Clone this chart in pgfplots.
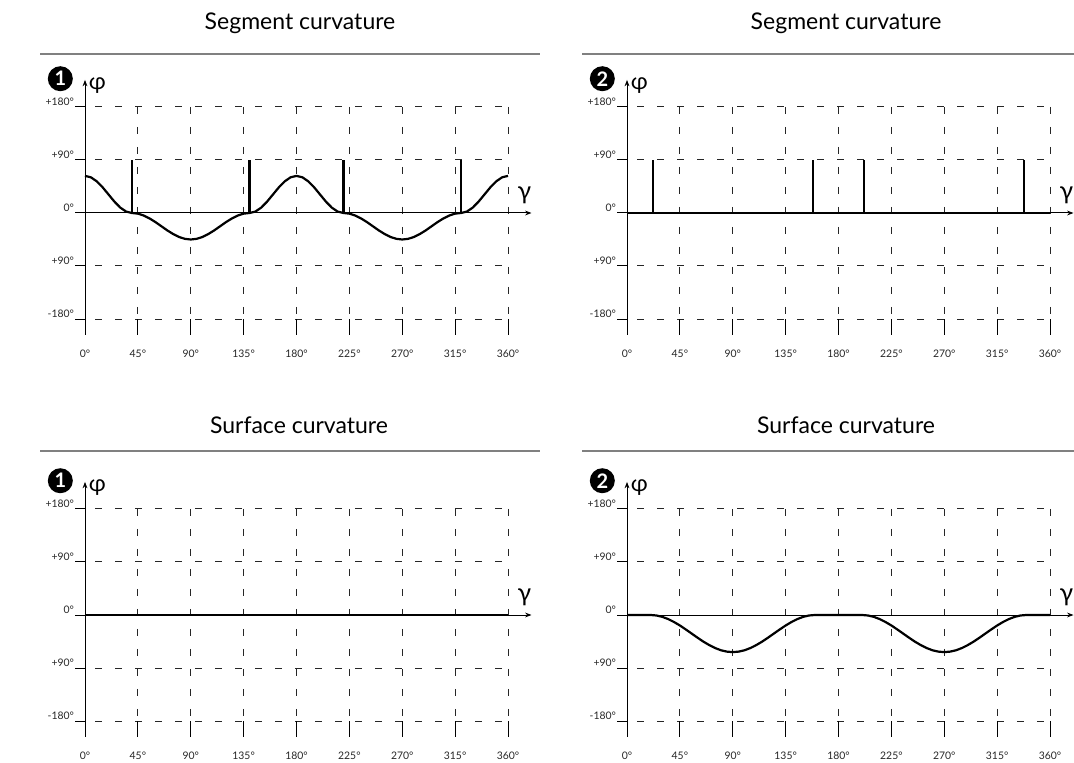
\documentclass[border=0pt]{standalone}
\usepackage{fontspec}
\setmainfont{Lato}
\usepackage{pgfplots}
\pgfplotsset{compat=1.18}
\usetikzlibrary{arrows.meta}

\tikzset{
  gridline/.style={black!85, line width=0.5pt, dash pattern=on 3.5pt off 6.5pt, dash phase=5pt},
  axisline/.style={black, line width=0.5pt},
  dataline/.style={black, line width=1.1pt},
}

\pgfplotsset{
  panel/.style={
    scale only axis, width=223.25pt, height=127.5pt,
    xmin=0, xmax=380, ymin=-207, ymax=226,
    axis line style={draw=none},
    major tick length=0pt,
    xtick={0,45,90,135,180,225,270,315,360},
    xticklabels={0°,45°,90°,135°,180°,225°,270°,315°,360°},
    ytick={-180,-90,0,90,180},
    yticklabels={-180°,+90°,0°,+90°,+180°},
    ticklabel style={font=\fontsize{5.2}{6}\selectfont, black!85},
    yticklabel style={anchor=south east, inner sep=0.3pt, xshift=-5pt, yshift=0.4pt},
    xticklabel style={anchor=north, yshift=-4pt},
    clip=false,
    anchor=south west,
  },
}

\newcommand{\panelframe}[1]{%
  \draw[gridline] (axis cs:0,180) -- (axis cs:360,180);
  \draw[gridline] (axis cs:0,90) -- (axis cs:360,90);
  \draw[gridline] (axis cs:0,-90) -- (axis cs:360,-90);
  \draw[gridline] (axis cs:0,-180) -- (axis cs:360,-180);
  \pgfplotsinvokeforeach{45,90,135,180,225,270,315,360}{%
    \draw[gridline, dash phase=0pt] (axis cs:##1,180) -- (axis cs:##1,-180);
    \draw[axisline] (axis cs:##1,-207) -- (axis cs:##1,-180);
  }
  \pgfplotsinvokeforeach{-180,-90,0,90,180}{%
    \draw[axisline] (axis cs:-8.5,##1) -- (axis cs:0,##1);
  }
  \draw[axisline, -{Stealth[length=3.2pt,width=2.4pt]}] (axis cs:0,-207) -- (axis cs:0,226);
  \draw[axisline, -{Stealth[length=3.2pt,width=2.4pt]}] (axis cs:0,0) -- (axis cs:380,0);
  \node[font=\fontsize{11.5}{12}\selectfont] at (axis cs:10.5,217) {φ};
  \node[font=\fontsize{12.5}{13}\selectfont] at (axis cs:374,30) {γ};
  \node[circle, fill=black, inner sep=0pt, minimum size=12.5pt, text=white,
        font=\fontsize{10}{11}\selectfont\bfseries] at (axis cs:-21,228) {#1};
}

\begin{document}
\begin{tikzpicture}
\useasboundingbox (0,0) rectangle (537pt,381pt);

% titles and rules
\node[font=\fontsize{11.5}{14}\selectfont] at (150pt,369.5pt) {Segment curvature};
\node[font=\fontsize{11.5}{14}\selectfont] at (423pt,369.5pt) {Segment curvature};
\node[font=\fontsize{11.5}{14}\selectfont] at (149.5pt,168.5pt) {Surface curvature};
\node[font=\fontsize{11.5}{14}\selectfont] at (423pt,168.5pt) {Surface curvature};
\draw[black!50, line width=1.1pt] (20pt,354pt) -- (270pt,354pt);
\draw[black!50, line width=1.1pt] (291pt,354pt) -- (537pt,354pt);
\draw[black!50, line width=1.1pt] (20pt,155.5pt) -- (270pt,155.5pt);
\draw[black!50, line width=1.1pt] (291pt,155.5pt) -- (537pt,155.5pt);

% ---- top left: segment curvature 1
\begin{axis}[panel, at={(42.5pt,213.55pt)}]
\panelframe{1}
\addplot[dataline] coordinates {
(0,63) (5,60.6) (10,53.8) (15,43.6) (20,31.5) (25,19.4) (30,9.2) (35,2.4) (40,0)
(45,-1.1) (50,-4.3) (55,-9.3) (60,-15.5) (65,-22.5) (70,-29.5) (75,-35.7) (80,-40.7) (85,-43.9) (90,-45)
(95,-43.9) (100,-40.7) (105,-35.7) (110,-29.5) (115,-22.5) (120,-15.5) (125,-9.3) (130,-4.3) (135,-1.1) (140,0)
(145,2.4) (150,9.2) (155,19.4) (160,31.5) (165,43.6) (170,53.8) (175,60.6) (180,63)
(185,60.6) (190,53.8) (195,43.6) (200,31.5) (205,19.4) (210,9.2) (215,2.4) (220,0)
(225,-1.1) (230,-4.3) (235,-9.3) (240,-15.5) (245,-22.5) (250,-29.5) (255,-35.7) (260,-40.7) (265,-43.9) (270,-45)
(275,-43.9) (280,-40.7) (285,-35.7) (290,-29.5) (295,-22.5) (300,-15.5) (305,-9.3) (310,-4.3) (315,-1.1) (320,0)
(325,2.4) (330,9.2) (335,19.4) (340,31.5) (345,43.6) (350,53.8) (355,60.6) (360,63)
};
\addplot[dataline] coordinates {(40,0) (40,90)};
\addplot[dataline] coordinates {(140,0) (140,90)};
\addplot[dataline] coordinates {(220,0) (220,90)};
\addplot[dataline] coordinates {(320,0) (320,90)};
\end{axis}

% ---- top right: segment curvature 2
\begin{axis}[panel, at={(313.5pt,213.55pt)}]
\panelframe{2}
\addplot[dataline] coordinates {(0,0) (360,0)};
\addplot[dataline] coordinates {(22,0) (22,90)};
\addplot[dataline] coordinates {(158,0) (158,90)};
\addplot[dataline] coordinates {(202,0) (202,90)};
\addplot[dataline] coordinates {(338,0) (338,90)};
\end{axis}

% ---- bottom left: surface curvature 1
\begin{axis}[panel, at={(42.5pt,12.55pt)}]
\panelframe{1}
\addplot[dataline] coordinates {(0,0) (360,0)};
\end{axis}

% ---- bottom right: surface curvature 2
\begin{axis}[panel, at={(313.5pt,12.55pt)}]
\panelframe{2}
\addplot[dataline] coordinates {
(0,0) (20,0) (25,-0.8) (30,-3.1) (35,-6.9) (40,-11.9) (45,-17.8) (50,-24.5) (55,-31.5) (60,-38.5)
(65,-45.2) (70,-51.1) (75,-56.1) (80,-59.9) (85,-62.2) (90,-63)
(95,-62.2) (100,-59.9) (105,-56.1) (110,-51.1) (115,-45.2) (120,-38.5) (125,-31.5) (130,-24.5)
(135,-17.8) (140,-11.9) (145,-6.9) (150,-3.1) (155,-0.8) (160,0) (200,0)
(205,-0.8) (210,-3.1) (215,-6.9) (220,-11.9) (225,-17.8) (230,-24.5) (235,-31.5) (240,-38.5)
(245,-45.2) (250,-51.1) (255,-56.1) (260,-59.9) (265,-62.2) (270,-63)
(275,-62.2) (280,-59.9) (285,-56.1) (290,-51.1) (295,-45.2) (300,-38.5) (305,-31.5) (310,-24.5)
(315,-17.8) (320,-11.9) (325,-6.9) (330,-3.1) (335,-0.8) (340,0) (360,0)
};
\end{axis}
\end{tikzpicture}
\end{document}
